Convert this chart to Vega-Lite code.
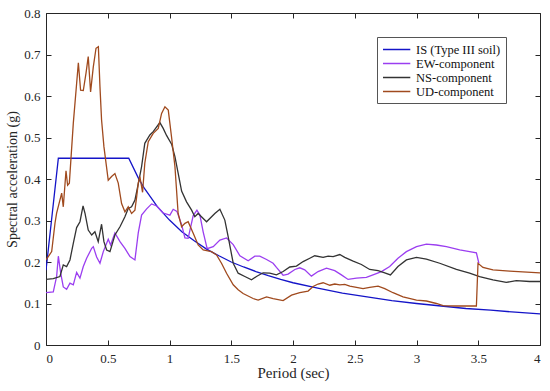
{
  "$schema": "https://vega.github.io/schema/vega-lite/v6.json",
  "width": 494,
  "height": 332,
  "autosize": {"type": "none"},
  "padding": {"left": 46, "top": 13, "right": 10, "bottom": 46},
  "background": "white",
  "config": {
    "view": {"stroke": null},
    "font": "Liberation Serif, Times New Roman, serif",
    "axis": {
      "grid": false,
      "labelFont": "Liberation Serif, Times New Roman, serif",
      "labelFontSize": 13,
      "labelColor": "#262626",
      "titleFont": "Liberation Serif, Times New Roman, serif",
      "titleFontSize": 14,
      "titleFontWeight": "normal",
      "titleColor": "#262626",
      "domainColor": "#262626",
      "tickColor": "#262626",
      "tickSize": -5,
      "domainWidth": 1
    }
  },
  "datasets": {
    "curves": [
      {"s":"IS (Type III soil)","t":0,"v":0.18},{"s":"IS (Type III soil)","t":0.1,"v":0.45},{"s":"IS (Type III soil)","t":0.67,"v":0.45},{"s":"IS (Type III soil)","t":0.75,"v":0.401},{"s":"IS (Type III soil)","t":0.8,"v":0.376},{"s":"IS (Type III soil)","t":0.9,"v":0.334},{"s":"IS (Type III soil)","t":1.0,"v":0.301},{"s":"IS (Type III soil)","t":1.1,"v":0.273},{"s":"IS (Type III soil)","t":1.2,"v":0.251},{"s":"IS (Type III soil)","t":1.3,"v":0.231},{"s":"IS (Type III soil)","t":1.4,"v":0.215},{"s":"IS (Type III soil)","t":1.5,"v":0.2},{"s":"IS (Type III soil)","t":1.6,"v":0.188},{"s":"IS (Type III soil)","t":1.7,"v":0.177},{"s":"IS (Type III soil)","t":1.8,"v":0.167},{"s":"IS (Type III soil)","t":1.9,"v":0.158},{"s":"IS (Type III soil)","t":2.0,"v":0.15},{"s":"IS (Type III soil)","t":2.2,"v":0.137},{"s":"IS (Type III soil)","t":2.4,"v":0.125},{"s":"IS (Type III soil)","t":2.6,"v":0.116},{"s":"IS (Type III soil)","t":2.8,"v":0.107},{"s":"IS (Type III soil)","t":3.0,"v":0.1},{"s":"IS (Type III soil)","t":3.2,"v":0.094},{"s":"IS (Type III soil)","t":3.4,"v":0.088},{"s":"IS (Type III soil)","t":3.6,"v":0.084},{"s":"IS (Type III soil)","t":3.8,"v":0.079},{"s":"IS (Type III soil)","t":4.0,"v":0.075},

      {"s":"EW-component","t":0,"v":0.126},{"s":"EW-component","t":0.059,"v":0.128},{"s":"EW-component","t":0.086,"v":0.165},{"s":"EW-component","t":0.1,"v":0.214},{"s":"EW-component","t":0.119,"v":0.173},{"s":"EW-component","t":0.14,"v":0.14},{"s":"EW-component","t":0.167,"v":0.134},{"s":"EW-component","t":0.194,"v":0.149},{"s":"EW-component","t":0.221,"v":0.145},{"s":"EW-component","t":0.248,"v":0.175},{"s":"EW-component","t":0.275,"v":0.161},{"s":"EW-component","t":0.302,"v":0.189},{"s":"EW-component","t":0.329,"v":0.209},{"s":"EW-component","t":0.37,"v":0.233},{"s":"EW-component","t":0.383,"v":0.237},{"s":"EW-component","t":0.41,"v":0.212},{"s":"EW-component","t":0.437,"v":0.197},{"s":"EW-component","t":0.464,"v":0.225},{"s":"EW-component","t":0.504,"v":0.255},{"s":"EW-component","t":0.523,"v":0.241},{"s":"EW-component","t":0.558,"v":0.27},{"s":"EW-component","t":0.599,"v":0.249},{"s":"EW-component","t":0.639,"v":0.233},{"s":"EW-component","t":0.68,"v":0.213},{"s":"EW-component","t":0.72,"v":0.205},{"s":"EW-component","t":0.747,"v":0.27},{"s":"EW-component","t":0.774,"v":0.313},{"s":"EW-component","t":0.815,"v":0.328},{"s":"EW-component","t":0.855,"v":0.34},{"s":"EW-component","t":0.896,"v":0.335},{"s":"EW-component","t":0.949,"v":0.318},{"s":"EW-component","t":1.003,"v":0.313},{"s":"EW-component","t":1.03,"v":0.327},{"s":"EW-component","t":1.06,"v":0.322},{"s":"EW-component","t":1.098,"v":0.29},{"s":"EW-component","t":1.125,"v":0.258},{"s":"EW-component","t":1.151,"v":0.257},{"s":"EW-component","t":1.192,"v":0.312},{"s":"EW-component","t":1.222,"v":0.325},{"s":"EW-component","t":1.246,"v":0.313},{"s":"EW-component","t":1.273,"v":0.272},{"s":"EW-component","t":1.305,"v":0.232},{"s":"EW-component","t":1.354,"v":0.237},{"s":"EW-component","t":1.408,"v":0.253},{"s":"EW-component","t":1.462,"v":0.258},{"s":"EW-component","t":1.516,"v":0.242},{"s":"EW-component","t":1.57,"v":0.215},{"s":"EW-component","t":1.637,"v":0.203},{"s":"EW-component","t":1.691,"v":0.214},{"s":"EW-component","t":1.731,"v":0.214},{"s":"EW-component","t":1.786,"v":0.206},{"s":"EW-component","t":1.839,"v":0.197},{"s":"EW-component","t":1.866,"v":0.187},{"s":"EW-component","t":1.92,"v":0.168},{"s":"EW-component","t":1.96,"v":0.171},{"s":"EW-component","t":2.015,"v":0.182},{"s":"EW-component","t":2.055,"v":0.186},{"s":"EW-component","t":2.095,"v":0.181},{"s":"EW-component","t":2.149,"v":0.166},{"s":"EW-component","t":2.203,"v":0.177},{"s":"EW-component","t":2.271,"v":0.185},{"s":"EW-component","t":2.338,"v":0.179},{"s":"EW-component","t":2.392,"v":0.169},{"s":"EW-component","t":2.446,"v":0.158},{"s":"EW-component","t":2.514,"v":0.161},{"s":"EW-component","t":2.594,"v":0.163},{"s":"EW-component","t":2.648,"v":0.169},{"s":"EW-component","t":2.716,"v":0.177},{"s":"EW-component","t":2.783,"v":0.189},{"s":"EW-component","t":2.85,"v":0.209},{"s":"EW-component","t":2.918,"v":0.225},{"s":"EW-component","t":3.0,"v":0.237},{"s":"EW-component","t":3.08,"v":0.243},{"s":"EW-component","t":3.161,"v":0.241},{"s":"EW-component","t":3.242,"v":0.237},{"s":"EW-component","t":3.35,"v":0.229},{"s":"EW-component","t":3.43,"v":0.225},{"s":"EW-component","t":3.485,"v":0.222},{"s":"EW-component","t":3.505,"v":0.197},

      {"s":"NS-component","t":0,"v":0.158},{"s":"NS-component","t":0.059,"v":0.16},{"s":"NS-component","t":0.113,"v":0.165},{"s":"NS-component","t":0.14,"v":0.193},{"s":"NS-component","t":0.167,"v":0.189},{"s":"NS-component","t":0.194,"v":0.205},{"s":"NS-component","t":0.221,"v":0.245},{"s":"NS-component","t":0.248,"v":0.283},{"s":"NS-component","t":0.275,"v":0.297},{"s":"NS-component","t":0.3,"v":0.335},{"s":"NS-component","t":0.316,"v":0.317},{"s":"NS-component","t":0.342,"v":0.277},{"s":"NS-component","t":0.37,"v":0.265},{"s":"NS-component","t":0.396,"v":0.273},{"s":"NS-component","t":0.423,"v":0.249},{"s":"NS-component","t":0.45,"v":0.291},{"s":"NS-component","t":0.469,"v":0.249},{"s":"NS-component","t":0.491,"v":0.229},{"s":"NS-component","t":0.518,"v":0.225},{"s":"NS-component","t":0.558,"v":0.265},{"s":"NS-component","t":0.599,"v":0.285},{"s":"NS-component","t":0.639,"v":0.309},{"s":"NS-component","t":0.666,"v":0.329},{"s":"NS-component","t":0.693,"v":0.333},{"s":"NS-component","t":0.72,"v":0.349},{"s":"NS-component","t":0.747,"v":0.388},{"s":"NS-component","t":0.774,"v":0.43},{"s":"NS-component","t":0.8,"v":0.486},{"s":"NS-component","t":0.841,"v":0.506},{"s":"NS-component","t":0.868,"v":0.514},{"s":"NS-component","t":0.922,"v":0.536},{"s":"NS-component","t":0.949,"v":0.522},{"s":"NS-component","t":0.976,"v":0.505},{"s":"NS-component","t":1.017,"v":0.484},{"s":"NS-component","t":1.044,"v":0.454},{"s":"NS-component","t":1.07,"v":0.414},{"s":"NS-component","t":1.098,"v":0.371},{"s":"NS-component","t":1.138,"v":0.345},{"s":"NS-component","t":1.179,"v":0.325},{"s":"NS-component","t":1.205,"v":0.309},{"s":"NS-component","t":1.232,"v":0.317},{"s":"NS-component","t":1.3,"v":0.297},{"s":"NS-component","t":1.367,"v":0.317},{"s":"NS-component","t":1.408,"v":0.327},{"s":"NS-component","t":1.448,"v":0.301},{"s":"NS-component","t":1.475,"v":0.261},{"s":"NS-component","t":1.516,"v":0.197},{"s":"NS-component","t":1.556,"v":0.173},{"s":"NS-component","t":1.61,"v":0.165},{"s":"NS-component","t":1.664,"v":0.157},{"s":"NS-component","t":1.704,"v":0.165},{"s":"NS-component","t":1.758,"v":0.174},{"s":"NS-component","t":1.812,"v":0.173},{"s":"NS-component","t":1.866,"v":0.169},{"s":"NS-component","t":1.92,"v":0.177},{"s":"NS-component","t":1.974,"v":0.188},{"s":"NS-component","t":2.028,"v":0.19},{"s":"NS-component","t":2.082,"v":0.201},{"s":"NS-component","t":2.136,"v":0.209},{"s":"NS-component","t":2.176,"v":0.215},{"s":"NS-component","t":2.244,"v":0.211},{"s":"NS-component","t":2.284,"v":0.214},{"s":"NS-component","t":2.325,"v":0.213},{"s":"NS-component","t":2.379,"v":0.218},{"s":"NS-component","t":2.419,"v":0.211},{"s":"NS-component","t":2.487,"v":0.202},{"s":"NS-component","t":2.554,"v":0.194},{"s":"NS-component","t":2.621,"v":0.182},{"s":"NS-component","t":2.689,"v":0.179},{"s":"NS-component","t":2.743,"v":0.174},{"s":"NS-component","t":2.789,"v":0.169},{"s":"NS-component","t":2.85,"v":0.189},{"s":"NS-component","t":2.918,"v":0.205},{"s":"NS-component","t":3.0,"v":0.211},{"s":"NS-component","t":3.08,"v":0.207},{"s":"NS-component","t":3.188,"v":0.197},{"s":"NS-component","t":3.323,"v":0.182},{"s":"NS-component","t":3.43,"v":0.173},{"s":"NS-component","t":3.511,"v":0.165},{"s":"NS-component","t":3.619,"v":0.157},{"s":"NS-component","t":3.727,"v":0.151},{"s":"NS-component","t":3.808,"v":0.155},{"s":"NS-component","t":3.916,"v":0.153},{"s":"NS-component","t":4.0,"v":0.153},

      {"s":"UD-component","t":0,"v":0.205},{"s":"UD-component","t":0.046,"v":0.225},{"s":"UD-component","t":0.073,"v":0.294},{"s":"UD-component","t":0.086,"v":0.318},{"s":"UD-component","t":0.127,"v":0.366},{"s":"UD-component","t":0.14,"v":0.333},{"s":"UD-component","t":0.162,"v":0.42},{"s":"UD-component","t":0.175,"v":0.385},{"s":"UD-component","t":0.189,"v":0.39},{"s":"UD-component","t":0.221,"v":0.534},{"s":"UD-component","t":0.248,"v":0.63},{"s":"UD-component","t":0.262,"v":0.68},{"s":"UD-component","t":0.28,"v":0.614},{"s":"UD-component","t":0.302,"v":0.613},{"s":"UD-component","t":0.324,"v":0.655},{"s":"UD-component","t":0.342,"v":0.695},{"s":"UD-component","t":0.361,"v":0.61},{"s":"UD-component","t":0.383,"v":0.67},{"s":"UD-component","t":0.405,"v":0.715},{"s":"UD-component","t":0.424,"v":0.719},{"s":"UD-component","t":0.437,"v":0.622},{"s":"UD-component","t":0.45,"v":0.542},{"s":"UD-component","t":0.469,"v":0.478},{"s":"UD-component","t":0.504,"v":0.397},{"s":"UD-component","t":0.531,"v":0.406},{"s":"UD-component","t":0.558,"v":0.413},{"s":"UD-component","t":0.585,"v":0.39},{"s":"UD-component","t":0.612,"v":0.341},{"s":"UD-component","t":0.639,"v":0.321},{"s":"UD-component","t":0.666,"v":0.333},{"s":"UD-component","t":0.693,"v":0.317},{"s":"UD-component","t":0.72,"v":0.325},{"s":"UD-component","t":0.734,"v":0.357},{"s":"UD-component","t":0.747,"v":0.39},{"s":"UD-component","t":0.76,"v":0.406},{"s":"UD-component","t":0.782,"v":0.368},{"s":"UD-component","t":0.8,"v":0.438},{"s":"UD-component","t":0.828,"v":0.49},{"s":"UD-component","t":0.868,"v":0.51},{"s":"UD-component","t":0.909,"v":0.522},{"s":"UD-component","t":0.936,"v":0.558},{"s":"UD-component","t":0.963,"v":0.574},{"s":"UD-component","t":0.99,"v":0.566},{"s":"UD-component","t":1.017,"v":0.5},{"s":"UD-component","t":1.044,"v":0.43},{"s":"UD-component","t":1.07,"v":0.317},{"s":"UD-component","t":1.098,"v":0.285},{"s":"UD-component","t":1.125,"v":0.293},{"s":"UD-component","t":1.151,"v":0.297},{"s":"UD-component","t":1.192,"v":0.269},{"s":"UD-component","t":1.232,"v":0.241},{"s":"UD-component","t":1.273,"v":0.229},{"s":"UD-component","t":1.34,"v":0.225},{"s":"UD-component","t":1.381,"v":0.217},{"s":"UD-component","t":1.421,"v":0.197},{"s":"UD-component","t":1.462,"v":0.173},{"s":"UD-component","t":1.516,"v":0.145},{"s":"UD-component","t":1.556,"v":0.133},{"s":"UD-component","t":1.596,"v":0.124},{"s":"UD-component","t":1.677,"v":0.112},{"s":"UD-component","t":1.718,"v":0.108},{"s":"UD-component","t":1.786,"v":0.116},{"s":"UD-component","t":1.839,"v":0.112},{"s":"UD-component","t":1.92,"v":0.107},{"s":"UD-component","t":1.988,"v":0.12},{"s":"UD-component","t":2.055,"v":0.126},{"s":"UD-component","t":2.122,"v":0.13},{"s":"UD-component","t":2.163,"v":0.141},{"s":"UD-component","t":2.203,"v":0.147},{"s":"UD-component","t":2.244,"v":0.15},{"s":"UD-component","t":2.298,"v":0.144},{"s":"UD-component","t":2.338,"v":0.147},{"s":"UD-component","t":2.379,"v":0.145},{"s":"UD-component","t":2.419,"v":0.146},{"s":"UD-component","t":2.46,"v":0.142},{"s":"UD-component","t":2.514,"v":0.139},{"s":"UD-component","t":2.567,"v":0.136},{"s":"UD-component","t":2.621,"v":0.139},{"s":"UD-component","t":2.689,"v":0.142},{"s":"UD-component","t":2.743,"v":0.136},{"s":"UD-component","t":2.81,"v":0.126},{"s":"UD-component","t":2.891,"v":0.116},{"s":"UD-component","t":3.0,"v":0.108},{"s":"UD-component","t":3.08,"v":0.106},{"s":"UD-component","t":3.161,"v":0.1},{"s":"UD-component","t":3.215,"v":0.095},{"s":"UD-component","t":3.323,"v":0.094},{"s":"UD-component","t":3.485,"v":0.094},{"s":"UD-component","t":3.498,"v":0.197},{"s":"UD-component","t":3.538,"v":0.187},{"s":"UD-component","t":3.619,"v":0.181},{"s":"UD-component","t":3.754,"v":0.178},{"s":"UD-component","t":4.0,"v":0.174}
    ]
  },
  "data": {"name": "curves"},
  "layer": [
    {
      "mark": {"type": "line", "strokeWidth": 1.3, "clip": true},
      "encoding": {
        "x": {
          "field": "t", "type": "quantitative",
          "scale": {"domain": [0, 4], "nice": false, "zero": false},
          "axis": {"title": "Period (sec)", "titleFontSize": 15, "values": [0, 0.5, 1, 1.5, 2, 2.5, 3, 3.5, 4], "format": "~g", "labelPadding": 12, "titlePadding": 0}
        },
        "y": {
          "field": "v", "type": "quantitative",
          "scale": {"domain": [0, 0.8], "nice": false},
          "axis": {"title": "Spectral acceleration (g)", "values": [0, 0.1, 0.2, 0.3, 0.4, 0.5, 0.6, 0.7, 0.8], "format": "~g", "labelPadding": 11, "titlePadding": 4}
        },
        "color": {
          "field": "s", "type": "nominal",
          "scale": {
            "domain": ["IS (Type III soil)", "EW-component", "NS-component", "UD-component"],
            "range": ["#1414c8", "#9b3ef0", "#333333", "#a04a1e"]
          },
          "legend": {
            "title": null,
            "orient": "none",
            "legendX": 331,
            "legendY": 24,
            "direction": "vertical",
            "symbolType": "M-1,0H3.2",
            "symbolSize": 169,
            "symbolStrokeWidth": 1.5,
            "symbolFillColor": "transparent",
            "labelFont": "Liberation Serif, Times New Roman, serif",
            "labelFontSize": 12.5,
            "labelColor": "#111111",
            "labelOffset": 19,
            "rowPadding": 0,
            "padding": 5,
            "strokeColor": "#555555",
            "fillColor": "white",
            "cornerRadius": 0
          }
        },
        "order": {"field": "t", "type": "quantitative"}
      }
    },
    {
      "mark": {"type": "point", "opacity": 0},
      "encoding": {
        "x": {
          "field": "t", "type": "quantitative",
          "scale": {"domain": [0, 4], "nice": false, "zero": false},
          "axis": {"orient": "top", "title": null, "labels": false, "values": [0, 0.5, 1, 1.5, 2, 2.5, 3, 3.5, 4]}
        },
        "y": {
          "field": "v", "type": "quantitative",
          "scale": {"domain": [0, 0.8], "nice": false},
          "axis": {"orient": "right", "title": null, "labels": false, "values": [0, 0.1, 0.2, 0.3, 0.4, 0.5, 0.6, 0.7, 0.8]}
        }
      }
    }
  ],
  "resolve": {"scale": {"x": "independent", "y": "independent"}}
}
